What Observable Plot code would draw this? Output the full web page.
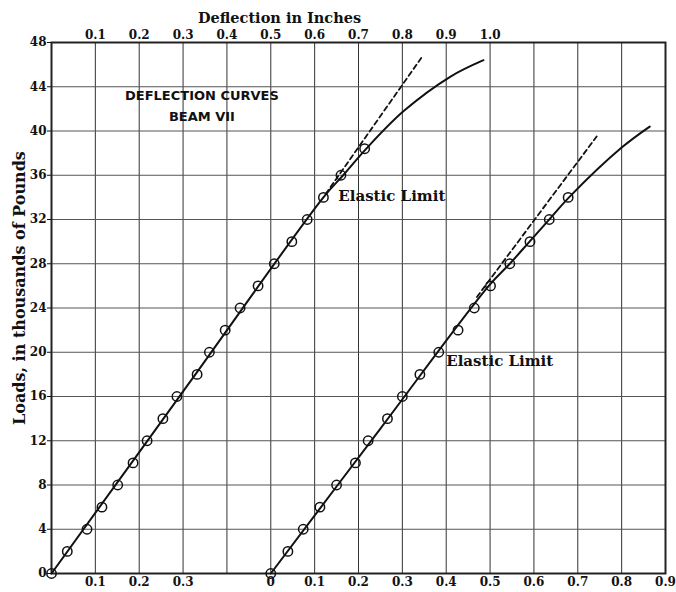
<!DOCTYPE html>
<html>
<head>
<meta charset="utf-8">
<script src="https://cdn.jsdelivr.net/npm/d3@7"></script>
<script src="https://cdn.jsdelivr.net/npm/@observablehq/plot@0.6"></script>
<style>
  html, body { margin: 0; padding: 0; background: #fff; }
  #chart svg { display: block; }
</style>
</head>
<body>
<div id="chart"></div>
<script>
// ---- Data (deflection in inches, load in thousands of pounds) ----
// Left curve: observed points
const leftLoads = [0, 2, 4, 6, 8, 10, 12, 14, 16, 18, 20, 22, 24, 26, 28, 30, 32, 34, 36, 38.4];
const leftDefl  = [0, 0.036, 0.081, 0.115, 0.151, 0.186, 0.218, 0.254, 0.286, 0.332, 0.360, 0.396, 0.430, 0.471, 0.508, 0.548, 0.583, 0.620, 0.660, 0.714];
// Left curve: drawn (faired) curve
const leftCurveDefl = [0, 0.31, 0.62, 0.665, 0.72, 0.803, 0.909, 0.985];
const leftCurveLoad = [0, 17, 34, 36, 38.5, 41.8, 44.9, 46.4];
// Left curve: dashed elastic extension
const leftDashDefl = [0.625, 0.843];
const leftDashLoad = [34.3, 46.6];

// Right curve: observed points (deflections on its own scale, origin shifted 0.5 in.)
const rightLoads = [0, 2, 4, 6, 8, 10, 12, 14, 16, 18, 20, 22, 24, 26, 28, 30, 32, 34];
const rightDefl  = [0, 0.039, 0.074, 0.112, 0.150, 0.193, 0.222, 0.266, 0.300, 0.340, 0.383, 0.427, 0.464, 0.501, 0.545, 0.591, 0.635, 0.678];
const rightCurveDefl = [0, 0.25, 0.497, 0.545, 0.59, 0.635, 0.68, 0.80, 0.864];
const rightCurveLoad = [0, 13.1, 26, 28, 30, 32, 34, 38.5, 40.4];
const rightDashDefl = [0.47, 0.743];
const rightDashLoad = [25, 39.5];
const rightOffset = 0.5;

// ---- Ticks / labels ----
const yTicks = [0, 4, 8, 12, 16, 20, 24, 28, 32, 36, 40, 44, 48];
const yGrid = [4, 8, 12, 16, 20, 24, 28, 32, 36, 40, 44];
const xGrid = [0.1, 0.2, 0.3, 0.4, 0.5, 0.6, 0.7, 0.8, 0.9, 1.0, 1.1, 1.2, 1.3];
const topTicks = [0.1, 0.2, 0.3, 0.4, 0.5, 0.6, 0.7, 0.8, 0.9, 1.0];
const bottomLeftTicks = [0.1, 0.2, 0.3];
const bottomRightTicks = [0, 0.1, 0.2, 0.3, 0.4, 0.5, 0.6, 0.7, 0.8, 0.9];

const titleTop = "Deflection in Inches";
const yTitle = "Loads, in thousands of Pounds";
const boxTitle = ["DEFLECTION CURVES", "BEAM VII"];
const elasticLabel = "Elastic Limit";

// ---- Build tables ----
const zip = (xs, ys, off = 0) => xs.map((x, i) => ({defl: x + off, load: ys[i]}));
const leftPts = zip(leftDefl, leftLoads);
const leftCurve = zip(leftCurveDefl, leftCurveLoad);
const leftDash = zip(leftDashDefl, leftDashLoad);
const rightPts = zip(rightDefl, rightLoads, rightOffset);
const rightCurve = zip(rightCurveDefl, rightCurveLoad, rightOffset);
const rightDash = zip(rightDashDefl, rightDashLoad, rightOffset);

const serif = "'DejaVu Serif', serif";
const sans = "'DejaVu Sans', sans-serif";
const fmt1 = d => d === 0 ? "0" : d.toFixed(1);

const chart = Plot.plot({
  width: 676,
  height: 592,
  marginLeft: 51,
  marginRight: 11,
  marginTop: 42,
  marginBottom: 19,
  style: {fontFamily: serif, fontSize: "12px", fontWeight: "bold", color: "#111", background: "#fff"},
  x: {domain: [0, 1.4]},
  y: {domain: [0, 48]},
  marks: [
    Plot.ruleX(xGrid, {stroke: "#333", strokeWidth: 1}),
    Plot.ruleY(yGrid, {stroke: "#555", strokeWidth: 1}),
    Plot.frame({stroke: "#222", strokeWidth: 2}),

    Plot.axisY({ticks: yTicks, tickSize: 4, tickPadding: 1, label: null, fontSize: 12, fontWeight: "bold"}),
    Plot.axisX({anchor: "top", ticks: topTicks, tickSize: 0, tickPadding: 4, label: null, tickFormat: fmt1, fontSize: 12}),
    Plot.axisX({anchor: "bottom", ticks: bottomLeftTicks, tickSize: 0, tickPadding: 4, label: null, tickFormat: fmt1, fontSize: 12}),
    Plot.axisX({anchor: "bottom", ticks: bottomRightTicks.map(d => d + rightOffset), tickSize: 0, tickPadding: 4, label: null,
      tickFormat: d => fmt1(Math.round((d - rightOffset) * 10) / 10), fontSize: 12}),

    Plot.text([titleTop], {x: 0.52, frameAnchor: "top", dy: -30, fontSize: 14.5, fontWeight: "bold", fill: "#111"}),
    Plot.text([yTitle], {x: 0, y: 25.8, rotate: -90, dx: -32, fontSize: 16, fontWeight: "bold", fill: "#111"}),

    Plot.line(leftCurve, {x: "defl", y: "load", curve: "catmull-rom", stroke: "#111", strokeWidth: 2}),
    Plot.line(leftDash, {x: "defl", y: "load", stroke: "#111", strokeWidth: 1.8, strokeDasharray: "5,3.5"}),
    Plot.line(rightCurve, {x: "defl", y: "load", curve: "catmull-rom", stroke: "#111", strokeWidth: 2}),
    Plot.line(rightDash, {x: "defl", y: "load", stroke: "#111", strokeWidth: 1.8, strokeDasharray: "5,3.5"}),

    Plot.dot(leftPts, {x: "defl", y: "load", r: 4.7, stroke: "#111", strokeWidth: 1.5, fill: "none"}),
    Plot.dot(rightPts, {x: "defl", y: "load", r: 4.7, stroke: "#111", strokeWidth: 1.5, fill: "none"}),

    Plot.text([elasticLabel], {x: 0.654, y: 34.1, textAnchor: "start", fontSize: 15, fontWeight: "bold", fill: "#111"}),
    Plot.text([elasticLabel], {x: 0.400 + rightOffset, y: 19.2, textAnchor: "start", fontSize: 15, fontWeight: "bold", fill: "#111"}),

    Plot.text([boxTitle[0]], {x: 0.343, y: 43.2, fontFamily: sans, fontSize: 13, fontWeight: "bold", fill: "#111", letterSpacing: 1.3}),
    Plot.text([boxTitle[1]], {x: 0.343, y: 41.3, fontFamily: sans, fontSize: 13, fontWeight: "bold", fill: "#111", letterSpacing: 1.3})
  ]
});

document.getElementById("chart").append(chart);
</script>
</body>
</html>
